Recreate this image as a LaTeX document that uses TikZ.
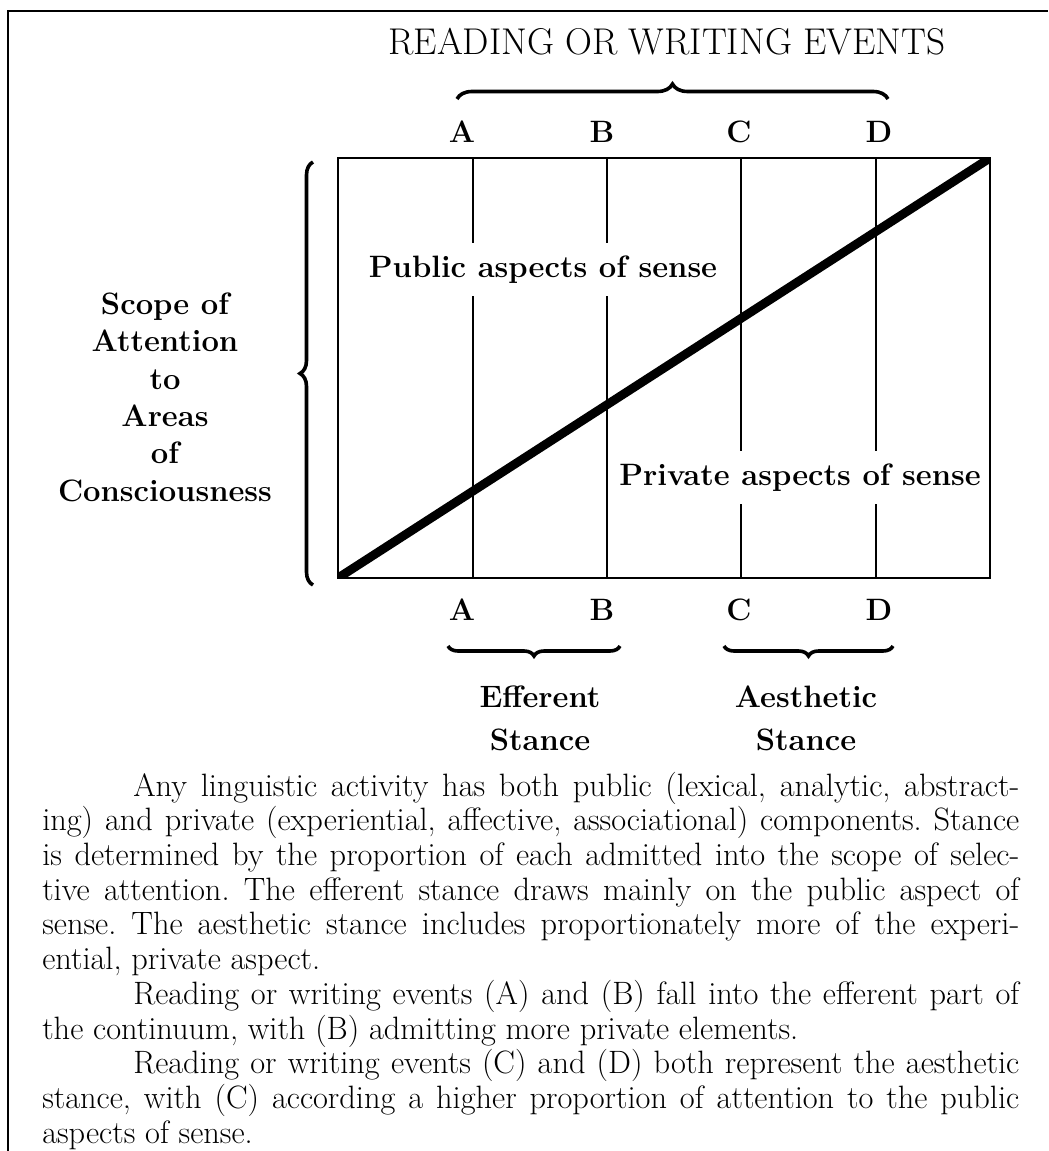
\documentclass[tikz,border=0pt]{standalone}
\usetikzlibrary{decorations.pathreplacing}

\begin{document}
\begin{tikzpicture}[x=0.25mm,y=-0.25mm,
  lbl/.style={font=\fontsize{22}{26.5}\selectfont\bfseries, align=center},
  brc/.style={decorate, decoration={brace,amplitude=#1}, line width=0.9mm},
  evline/.style={line width=0.5mm}]
\useasboundingbox (0,0) rectangle (1048,1151);
\draw [line width=0.5mm] (8,1151) -- (8,11) -- (1048,11);
% events along the top
\node (title) [anchor=base, font=\fontsize{26.5}{30}\selectfont] at (667,55) {READING OR WRITING EVENTS};
\draw [brc=3.75mm] (457,99) -- (888,99);
\foreach \l/\x/\t in { A/473/462 , B/607/602 , C/741/739 , D/876/879 } { \draw [evline] (\x,158) -- (\x,578); \node (top\l) [lbl, anchor=base] at (\t,143) {\l}; \node (bot\l) [lbl, anchor=base] at (\t,620) {\l}; };
\node (pub) [lbl, fill=white, inner xsep=1mm, inner ysep=3.2mm, anchor=base] at (543,277) {Public aspects of sense};
\node (priv) [lbl, fill=white, inner xsep=1mm, inner ysep=3.2mm, anchor=base] at (800,485) {Private aspects of sense};
\draw [line width=0.55mm] (338,158) rectangle (990,578);
\begin{scope} \clip (338,158) rectangle (990,578); \draw [line width=2.2mm] (338,578) -- (990,158); \end{scope}
% scope of attention (base = last line)
\draw [brc=3.25mm] (313,585) -- (313,162);
\node (scope) [lbl, anchor=base] at (165,501) {Scope of\\Attention\\to\\Areas\\of\\Consciousness};
% stances
\draw [brc=2.5mm] (620,646) -- (448,646); \draw [brc=2.5mm] (893,646) -- (724,646);
\node (eff) [lbl, font=\fontsize{22}{30}\selectfont\bfseries, anchor=base] at (540,750) {Efferent\\Stance};
\node (aes) [lbl, font=\fontsize{22}{30}\selectfont\bfseries, anchor=base] at (806,750) {Aesthetic\\Stance};
% caption
\node (note) [anchor=base west, inner sep=0pt, text width=244.25mm, align=justify, font=\fontsize{23}{24.7}\selectfont] at (42,796) {\tolerance=10000\hyphenpenalty=10000\frenchspacing
\noindent\hspace*{22.75mm}Any linguistic activity has both public (lexical, analytic, abstract-\linebreak ing) and private (experiential, affective, associational) components. Stance\linebreak is determined by the proportion of each admitted into the scope of selec-\linebreak tive attention. The efferent stance draws mainly on the public aspect of\linebreak sense. The aesthetic stance includes proportionately more of the experi-\linebreak ential, private aspect.\par
\noindent\hspace*{22.75mm}Reading or writing events (A) and (B) fall into the efferent part of\linebreak the continuum, with (B) admitting more private elements.\par
\noindent\hspace*{22.75mm}Reading or writing events (C) and (D) both represent the aesthetic\linebreak stance, with (C) according a higher proportion of attention to the public\linebreak aspects of sense.\par};
\end{tikzpicture}
\end{document}
